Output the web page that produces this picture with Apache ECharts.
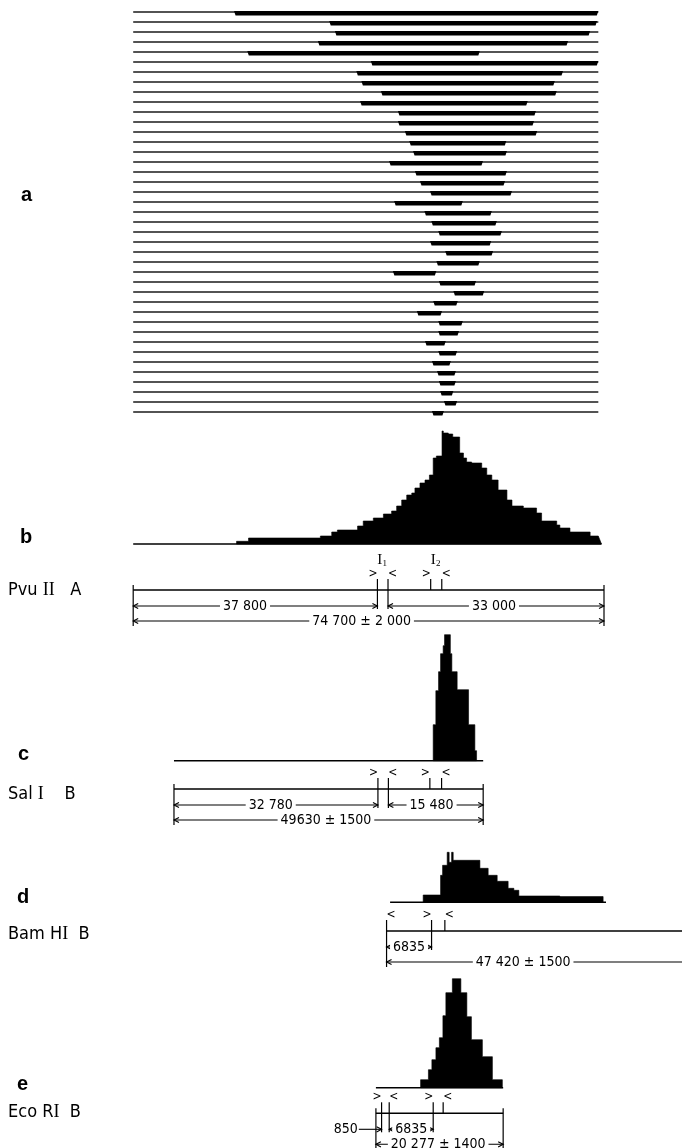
<!DOCTYPE html>
<html>
<head>
<meta charset="utf-8">
<script src="https://cdn.jsdelivr.net/npm/echarts@6/dist/echarts.min.js"></script>
<style>html,body{margin:0;padding:0;background:#fff}#chart{width:682px;height:1148px}</style>
</head>
<body>
<div id="chart"></div>
<script>
// ---------- DATA (positions in kb from the left end of PvuII A) ----------
// Panel a: 41 partially denatured molecules
const molStart = 0, molEnd = 73.8;
const denStart = [16.0,31.1,32.0,29.3,18.1,37.7,35.4,36.2,39.3,36.0,42.0,42.0,43.1,43.8,44.4,40.6,44.7,45.5,47.1,41.4,46.2,47.3,48.4,47.1,49.5,48.1,41.2,48.5,50.8,47.6,45.0,48.4,48.4,46.3,48.4,47.4,48.2,48.5,48.7,49.3,47.4];
const denEnd   = [73.8,73.6,72.5,69.0,55.0,73.8,68.2,66.9,67.2,62.6,63.9,63.6,64.1,59.2,59.3,55.5,59.3,59.0,60.1,52.3,56.9,57.7,58.5,56.8,57.1,55.0,48.1,54.4,55.7,51.5,49.0,52.3,51.7,49.6,51.4,50.4,51.2,51.2,50.8,51.4,49.3];
const molIds = denStart.map((_, i) => String(i + 1));

// Panel b: denaturation histogram of PvuII A (bin edges, kb; frequencies, arbitrary units)
const bEdges = [16.4,18.3,29.7,31.5,32.4,35.6,36.5,38.1,39.7,41.0,41.8,42.6,43.4,44.2,44.7,45.5,46.3,47.0,47.6,48.1,49.0,49.2,50.0,50.7,51.8,52.4,52.9,53.7,55.3,56.1,56.9,57.9,59.3,60.1,61.9,64.0,64.8,67.2,67.7,69.3,72.5,73.8];
const bFreq  = [2.7,6,8,12,14,18,23,26,30,33,38,44,49,51,56,61,64,69,86,88,113,111,110,107,91,86,82,81,76,69,64,54,44,38,36,31,23,19,16,12,8];
const bBase  = [0, 74.3];

// Panel c: SalI B
const cEdges = [47.6,48.02,48.45,48.77,49.18,49.4,50.32,50.56,51.4,53.21,54.21,54.48];
const cFreq  = [36,70,89,107,115,126,107,89,71,36,10];
const cBase  = [6.47, 55.53];

// Panel d: BamHI B
const dEdges = [46.01,48.77,49.09,49.82,50.13,50.52,50.77,55.01,56.32,57.75,59.49,60.4,61.19,67.7,74.56];
const dFreq  = [7.3,27,37,50,40,50,42,34,27,21,14,12,6.3,5.7];
const dBase  = [40.76, 87.2];

// Panel e: EcoRI B
const eEdges = [45.6,46.84,47.39,48.03,48.58,49.14,49.61,50.64,51.99,52.94,53.66,55.4,56.99,58.57];
const eFreq  = [8,18,28,40,50,72,95,109,95,71,48,31,8];
const eBase  = [38.51, 58.7];

// Restriction maps: span, end ticks, inverted-repeat sites [kb, bracket, tick depth], dimensions [row, from, to, label, labelAt, arrows]
const pvuSpan = [0, 74.7], pvuEnds = [0, 74.7];
const pvuSites = [[38.75,'>',1],[40.43,'<',1],[47.2,'>',0],[48.96,'<',0]];
const pvuDims = [[1,0,38.75,'37 800',17.74,'both'],[1,40.43,74.7,'33 000',57.24,'both'],[2,0,74.7,'74 700 ± 2 000',36.24,'both']];
const pvuNames = [[39.37,'1'],[47.84,'2']];

const salSpan = [6.47, 55.53], salEnds = [6.47, 55.53];
const salSites = [[38.83,'>',1],[40.49,'<',1],[47.07,'>',0],[48.93,'<',0]];
const salDims = [[1,6.47,38.83,'32 780',21.82,'both'],[1,40.49,55.53,'15 480',47.34,'both'],[2,6.47,55.53,'49630 ± 1500',30.58,'both']];

const bamSpan = [40.2, 87.2], bamEnds = [];
const bamSites = [[40.2,'<',2],[47.34,'>',1],[49.45,'<',0]];
const bamDims = [[1,40.2,47.34,'6835',43.77,'both'],[2,40.2,87.2,'47 420 ± 1500',61.87,'left']];

const ecoSpan = [38.51, 58.7], ecoEnds = [38.51, 58.7];
const ecoSites = [[39.41,'>',1],[40.62,'<',1],[47.6,'>',1],[49.18,'<',0]];
const ecoDims = [[1,35.8,39.41,'850',null,'right'],[1,40.62,47.6,'6835',44.11,'both'],[2,38.51,58.7,'20 277 ± 1400',48.39,'both']];

// ---------- LAYOUT ----------
const KB_MIN = 0, KB_MAX = 74.7;
const GL = 133.2, GW = 470.8;
const NARROW = '"Liberation Sans Narrow", "DejaVu Sans Condensed", "Arial Narrow", sans-serif';
const COND = '"DejaVu Sans Condensed", "Liberation Sans Narrow", sans-serif';
const SERIF = '"Liberation Serif", "DejaVu Serif", serif';
const BOLD = '"Liberation Sans", Arial, sans-serif';

const grids = [
  {left: GL, width: GW, top: 7, height: 410},
  {left: GL, width: GW, top: 424, height: 120},
  {left: GL, width: GW, top: 640.7, height: 120},
  {left: GL, width: GW, top: 782.3, height: 120},
  {left: GL, width: GW, top: 967.7, height: 120}
];

// One filled step outline per histogram, projected through the grid's axes
function histSeries(gi, edges, freq, tailEnd) {
  const pts = [[edges[0], 0]];
  freq.forEach((h, i) => { pts.push([edges[i], h], [edges[i + 1], h]); });
  pts.push([tailEnd != null ? tailEnd : edges[edges.length - 1], 0]);
  return {type: 'custom', xAxisIndex: gi, yAxisIndex: gi, clip: false, silent: true, z: 3,
    data: pts,
    encode: {x: 0, y: 1},
    renderItem(params, api) {
      if (params.dataIndex !== 0) return null;
      const poly = pts.map(p => api.coord(p));
      return {type: 'polygon', shape: {points: poly}, style: {fill: '#000', stroke: '#000', lineWidth: 0.6}};
    }};
}
function baseSeries(gi, span) {
  return {type: 'line', xAxisIndex: gi, yAxisIndex: gi, data: [[span[0], 0], [span[1], 0]],
    symbol: 'none', silent: true, clip: false, z: 2, lineStyle: {color: '#000', width: 1.4}};
}

function arrowHead(x, y, dir) {
  return {type: 'polyline', shape: {points: [[x - dir * 5, y - 2.6], [x, y], [x - dir * 5, y + 2.6]]},
    style: {stroke: '#000', fill: null, lineWidth: 1.1}};
}

function mapSeries(gi, dy, span, ends, sites, dims, names) {
  const items = [];
  items.push({t: 'span', x: span[0], a: span[0], b: span[1]});
  ends.forEach(x => items.push({t: 'end', x}));
  sites.forEach(s => items.push({t: 'site', x: s[0], br: s[1], depth: s[2]}));
  dims.forEach(d => items.push({t: 'dim', x: d[1], row: d[0], a: d[1], b: d[2], label: d[3], at: d[4], arrows: d[5]}));
  (names || []).forEach(n => items.push({t: 'name', x: n[0], sub: n[1]}));
  return {
    type: 'custom', xAxisIndex: gi, yAxisIndex: gi, clip: false, silent: true, z: 4,
    data: items.map(it => [it.x, 0]),
    encode: {x: 0, y: 1},
    renderItem(params, api) {
      const it = items[params.dataIndex];
      const base = api.coord([0, 0])[1];
      const yMap = base + dy;
      const rows = [yMap, yMap + 16, yMap + 31];
      const X = v => api.coord([v, 0])[0];
      const ch = [];
      const stroke = {stroke: '#000', lineWidth: 1.2};
      if (it.t === 'span') {
        ch.push({type: 'line', shape: {x1: X(it.a), y1: yMap, x2: X(it.b), y2: yMap}, style: {stroke: '#000', lineWidth: 1.5}});
      } else if (it.t === 'end') {
        ch.push({type: 'line', shape: {x1: X(it.x), y1: yMap - 5, x2: X(it.x), y2: rows[2] + 5}, style: stroke});
      } else if (it.t === 'site') {
        const x = X(it.x);
        const yb = it.depth === 0 ? yMap : it.depth === 1 ? rows[1] + 3 : rows[2] + 5;
        ch.push({type: 'line', shape: {x1: x, y1: yMap - 11, x2: x, y2: yb}, style: stroke});
        ch.push({type: 'text', style: {text: it.br, x: x + (it.br === '>' ? -4.5 : 4.5), y: yMap - 16,
          font: '12px ' + NARROW, fill: '#000', align: 'center', verticalAlign: 'middle'}});
      } else if (it.t === 'dim') {
        const y = rows[it.row], xa = X(it.a), xb = X(it.b);
        ch.push({type: 'line', shape: {x1: xa, y1: y, x2: xb, y2: y}, style: {stroke: '#000', lineWidth: 1.1}});
        if (it.arrows === 'both' || it.arrows === 'left') ch.push(arrowHead(xa, y, -1));
        if (it.arrows === 'both' || it.arrows === 'right') ch.push(arrowHead(xb, y, 1));
        if (it.at == null) {
          ch.push({type: 'text', style: {text: it.label, x: xa - 1, y: y, font: '14px ' + NARROW,
            fill: '#000', align: 'right', verticalAlign: 'middle'}});
        } else {
          ch.push({type: 'text', style: {text: it.label, x: X(it.at), y: y, font: '14px ' + NARROW,
            fill: '#000', align: 'center', verticalAlign: 'middle', backgroundColor: '#fff', padding: [0, 3]}});
        }
      } else if (it.t === 'name') {
        const x = X(it.x);
        ch.push({type: 'text', style: {text: 'I', x: x - 1.5, y: yMap - 30, font: '15px ' + SERIF,
          fill: '#000', align: 'center', verticalAlign: 'middle'}});
        ch.push({type: 'text', style: {text: it.sub, x: x + 3.5, y: yMap - 26.5, font: '9px ' + SERIF,
          fill: '#000', align: 'center', verticalAlign: 'middle'}});
      }
      return {type: 'group', children: ch};
    }
  };
}

function label(x, y, parts) {
  return {type: 'text', x: x, y: y, silent: true,
    style: {text: parts, verticalAlign: 'middle', align: 'left',
      rich: {
        n: {fontSize: 18, fontFamily: COND, fill: '#000'},
        r: {fontSize: 18, fontFamily: SERIF, fill: '#000'}
      }}};
}
function letter(x, y, t) {
  return {type: 'text', x: x, y: y, silent: true,
    style: {text: t, font: 'bold 20px ' + BOLD, fill: '#000', verticalAlign: 'middle', align: 'left'}};
}

const molSeries = {
  type: 'custom', xAxisIndex: 0, yAxisIndex: 0, clip: false, silent: true,
  data: denStart.map((s, i) => [s, denEnd[i], i]),
  encode: {x: [0, 1], y: 2},
  renderItem(params, api) {
    const i = api.value(2);
    const y = api.coord([0, i])[1];
    const xs = api.coord([molStart, i])[0], xe = api.coord([molEnd, i])[0];
    const a = api.coord([api.value(0), i])[0], b = api.coord([api.value(1), i])[0];
    return {type: 'group', children: [
      {type: 'line', shape: {x1: xs, y1: y, x2: xe, y2: y}, style: {stroke: '#1a1a1a', lineWidth: 1.3}},
      {type: 'polygon', shape: {points: [[a, y - 1], [b, y - 1], [b - 1.5, y + 3.4], [a + 1.5, y + 3.4]]}, style: {fill: '#000'}}
    ]};
  }
};

const option = {
  animation: false,
  backgroundColor: '#fff',
  grid: grids,
  xAxis: grids.map((g, k) => ({type: 'value', gridIndex: k, min: KB_MIN, max: KB_MAX, show: false})),
  yAxis: grids.map((g, k) => k === 0
    ? {type: 'category', gridIndex: 0, data: molIds, inverse: true, show: false}
    : {type: 'value', gridIndex: k, min: 0, max: 120, show: false}),
  graphic: [
    letter(21, 195, 'a'),
    letter(20, 537, 'b'),
    letter(18, 754, 'c'),
    letter(17, 897, 'd'),
    letter(17, 1084, 'e'),
    label(8, 590.5, '{n|Pvu }{r|II}{n|   A}'),
    label(8, 794, '{n|Sal }{r|I}{n|    B}'),
    label(8, 934, '{n|Bam H}{r|I}{n|  B}'),
    label(8, 1112.5, '{n|Eco R}{r|I}{n|  B}')
  ],
  series: [
    molSeries,
    baseSeries(1, bBase), histSeries(1, bEdges, bFreq, 74.3),
    baseSeries(2, cBase), histSeries(2, cEdges, cFreq),
    baseSeries(3, dBase), histSeries(3, dEdges, dFreq),
    baseSeries(4, eBase), histSeries(4, eEdges, eFreq),
    mapSeries(1, 46, pvuSpan, pvuEnds, pvuSites, pvuDims, pvuNames),
    mapSeries(2, 28.3, salSpan, salEnds, salSites, salDims),
    mapSeries(3, 28.7, bamSpan, bamEnds, bamSites, bamDims),
    mapSeries(4, 25.6, ecoSpan, ecoEnds, ecoSites, ecoDims)
  ]
};

const chart = echarts.init(document.getElementById('chart'), null, {renderer: 'canvas'});
chart.setOption(option);
</script>
</body>
</html>
